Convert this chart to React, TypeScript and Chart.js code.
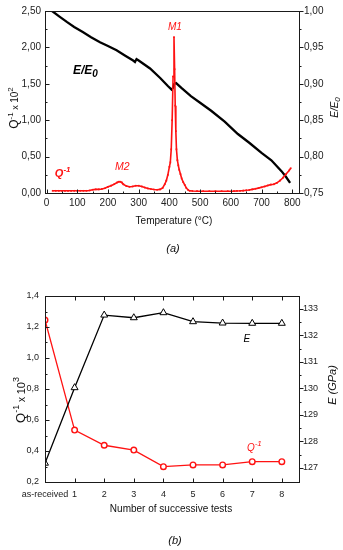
import React, { useEffect, useRef } from 'react';
import { Chart, registerables } from 'chart.js';
Chart.register(...registerables);

const FONT = '"Liberation Sans", Arial, Helvetica, sans-serif';
const RED = '#ff1212';
const INK = '#222222';

// ---------- Chart (a): internal friction & modulus vs temperature ----------
const tempE = [18, 40, 66, 90, 118, 145, 174, 200, 228, 255, 282, 288, 293, 300, 337, 370, 395, 407, 411, 416, 422, 440, 470, 500, 536, 580, 623, 660, 700, 732, 765, 780, 793];
const eRatio = [1.0, 0.993, 0.985, 0.978, 0.971, 0.964, 0.957, 0.952, 0.946, 0.939, 0.932, 0.930, 0.934, 0.932, 0.921, 0.908, 0.897, 0.892, 0.894, 0.900, 0.901, 0.894, 0.883, 0.874, 0.863, 0.848, 0.831, 0.819, 0.805, 0.795, 0.780, 0.772, 0.764];

const tempQ = [20, 30, 40, 50, 60, 70, 80, 90, 100, 110, 120, 130, 140, 150, 160, 170, 180, 190, 200, 210, 220, 230, 235, 240, 245, 250, 260, 270, 280, 290, 300, 310, 320, 330, 340, 350, 360, 370, 378, 385, 390, 395, 400, 403, 406, 409, 412, 415, 417, 419, 421, 423, 426, 429, 432, 436, 440, 445, 450, 455, 460, 466, 475, 490, 510, 530, 550, 570, 590, 610, 620, 630, 640, 650, 660, 670, 680, 690, 700, 710, 720, 730, 740, 750, 760, 770, 780, 790, 795];
const qDamping = [0.03, 0.03, 0.03, 0.03, 0.03, 0.03, 0.03, 0.03, 0.03, 0.03, 0.03, 0.03, 0.035, 0.045, 0.05, 0.05, 0.055, 0.065, 0.085, 0.10, 0.12, 0.145, 0.155, 0.155, 0.145, 0.12, 0.095, 0.085, 0.09, 0.10, 0.10, 0.09, 0.075, 0.063, 0.055, 0.048, 0.045, 0.05, 0.07, 0.12, 0.17, 0.25, 0.36, 0.42, 0.60, 1.0, 1.6, 2.14, 1.7, 1.2, 0.85, 0.60, 0.45, 0.38, 0.32, 0.26, 0.20, 0.15, 0.11, 0.07, 0.045, 0.03, 0.027, 0.025, 0.025, 0.025, 0.025, 0.025, 0.025, 0.026, 0.028, 0.03, 0.033, 0.037, 0.042, 0.05, 0.058, 0.067, 0.078, 0.09, 0.103, 0.115, 0.12, 0.14, 0.17, 0.21, 0.26, 0.31, 0.34];

const tempTicks = [0, 100, 200, 300, 400, 500, 600, 700, 800];
const qTicksA = [0, 0.5, 1.0, 1.5, 2.0, 2.5];
const eTicksA = [0.75, 0.80, 0.85, 0.90, 0.95, 1.00];

// ---------- Chart (b): successive tests ----------
const testLabels = ['as-received', '1', '2', '3', '4', '5', '6', '7', '8'];
const testIndex = [0, 1, 2, 3, 4, 5, 6, 7, 8];
const eModulus = [127.18, 130.03, 132.77, 132.67, 132.86, 132.52, 132.47, 132.46, 132.46];
const qTests = [1.245, 0.535, 0.437, 0.406, 0.299, 0.31, 0.31, 0.331, 0.331];
const qTicksB = [0.2, 0.4, 0.6, 0.8, 1.0, 1.2, 1.4];
const eTicksB = [127, 128, 129, 130, 131, 132, 133];

type Part = { t: string; size: number; dy?: number; italic?: boolean; bold?: boolean };

function drawRich(ctx: CanvasRenderingContext2D, parts: Part[], x: number, y: number, color: string, align: 'left' | 'center', rot = 0) {
  ctx.save();
  ctx.translate(x, y);
  if (rot) ctx.rotate(rot);
  ctx.fillStyle = color;
  ctx.textBaseline = 'alphabetic';
  ctx.textAlign = 'left';
  const fontOf = (p: Part) => `${p.italic ? 'italic ' : ''}${p.bold ? 'bold ' : ''}${p.size}px ${FONT}`;
  let total = 0;
  const widths = parts.map((p) => {
    ctx.font = fontOf(p);
    const w = ctx.measureText(p.t).width;
    total += w;
    return w;
  });
  let cx = align === 'center' ? -total / 2 : 0;
  parts.forEach((p, i) => {
    ctx.font = fontOf(p);
    ctx.fillText(p.t, cx, p.dy || 0);
    cx += widths[i];
  });
  ctx.restore();
}

const mids = (a: number[]) => a.slice(1).map((v, i) => (v + a[i]) / 2);

type TickSpec = { id: string; side: 'left' | 'right' | 'top' | 'bottom'; inward: boolean; major: number[]; minor: number[] };
type Note = { x: number; y: number; yId: string; parts: Part[]; color: string; align: 'left' | 'center' };
type Title = { x: number; y: number; rot: number; parts: Part[]; align: 'left' | 'center' };

function decor(id: string, ticks: TickSpec[], notes: Note[], titles: Title[]) {
  return {
    id,
    afterDraw(chart: any) {
      const ctx: CanvasRenderingContext2D = chart.ctx;
      const a = chart.chartArea;
      ctx.save();
      ctx.strokeStyle = '#1a1a1a';
      ctx.lineWidth = 1;
      const L = Math.round(a.left) + 0.5, R = Math.round(a.right) + 0.5, T = Math.round(a.top) + 0.5, B = Math.round(a.bottom) + 0.5;
      ctx.strokeRect(L, T, R - L, B - T);
      for (const s of ticks) {
        const sc = chart.scales[s.id];
        const one = (v: number, len: number) => {
          const p = Math.round(sc.getPixelForValue(v)) + 0.5;
          ctx.beginPath();
          if (s.side === 'left') { ctx.moveTo(L, p); ctx.lineTo(L + (s.inward ? len : -len), p); }
          else if (s.side === 'right') { ctx.moveTo(R, p); ctx.lineTo(R + (s.inward ? -len : len), p); }
          else if (s.side === 'bottom') { ctx.moveTo(p, B); ctx.lineTo(p, B + (s.inward ? -len : len)); }
          else { ctx.moveTo(p, T); ctx.lineTo(p, T + (s.inward ? len : -len)); }
          ctx.stroke();
        };
        s.major.forEach((v) => one(v, 4));
        s.minor.forEach((v) => one(v, 2));
      }
      ctx.restore();
      for (const n of notes) {
        const xs = chart.scales.x, ys = chart.scales[n.yId];
        drawRich(ctx, n.parts, xs.getPixelForValue(n.x), ys.getPixelForValue(n.y), n.color, n.align);
      }
      for (const t of titles) drawRich(ctx, t.parts, t.x, t.y, '#111', t.align, t.rot);
    },
  };
}

const W = 343;
const HA = 262;
const HB = 288;

export default function App() {
  const refA = useRef<HTMLCanvasElement>(null);
  const refB = useRef<HTMLCanvasElement>(null);

  useEffect(() => {
    const tickFontA = { family: FONT, size: 10 };
    const tickFontB = { family: FONT, size: 9 };
    const hidden = { display: false, drawTicks: false };
    const noBorder = { display: false };

    const chartA = new Chart(refA.current!, {
      type: 'line',
      data: {
        datasets: [
          {
            label: 'Q-1',
            data: tempQ.map((t, i) => ({ x: t, y: qDamping[i] })),
            yAxisID: 'yQ',
            borderColor: RED,
            backgroundColor: RED,
            borderWidth: 1.6,
            pointRadius: 1.2,
            pointStyle: 'rect',
            pointBorderWidth: 0,
            tension: 0,
          },
          {
            label: 'E/E0',
            data: tempE.map((t, i) => ({ x: t, y: eRatio[i] })),
            yAxisID: 'yE',
            borderColor: '#000',
            borderWidth: 2.3,
            pointRadius: 0,
            tension: 0,
          },
        ],
      },
      options: {
        animation: false,
        responsive: false,
        layout: { padding: { top: 8, left: 0, right: 0, bottom: 0 } },
        plugins: { legend: { display: false }, tooltip: { enabled: false } },
        scales: {
          x: {
            type: 'linear', min: -5, max: 822,
            grid: hidden, border: noBorder,
            ticks: { font: tickFontA, color: INK, padding: 4, maxRotation: 0, autoSkip: false, callback: (v: any) => String(v) },
            afterBuildTicks: (s: any) => { s.ticks = tempTicks.map((v) => ({ value: v })); },
            afterFit: (s: any) => { s.height = HA - 193; },
          },
          yQ: {
            type: 'linear', position: 'left', min: 0, max: 2.5,
            grid: hidden, border: noBorder,
            ticks: { font: tickFontA, color: INK, padding: 4, callback: (v: any) => Number(v).toFixed(2).replace('.', ',') },
            afterBuildTicks: (s: any) => { s.ticks = qTicksA.map((v) => ({ value: v })); },
            afterFit: (s: any) => { s.width = 45; },
          },
          yE: {
            type: 'linear', position: 'right', min: 0.75, max: 1.0,
            grid: hidden, border: noBorder,
            ticks: { font: tickFontA, color: INK, padding: 5, callback: (v: any) => Number(v).toFixed(2).replace('.', ',') },
            afterBuildTicks: (s: any) => { s.ticks = eTicksA.map((v) => ({ value: v })); },
            afterFit: (s: any) => { s.width = 44; },
          },
        },
      },
      plugins: [
        decor(
          'decorA',
          [
            { id: 'x', side: 'bottom', inward: true, major: tempTicks, minor: mids(tempTicks) },
            { id: 'yQ', side: 'left', inward: true, major: qTicksA, minor: mids(qTicksA) },
            { id: 'yE', side: 'right', inward: false, major: eTicksA, minor: mids(eTicksA) },
          ],
          [
            { x: 86, y: 1.628, yId: 'yQ', color: '#000', align: 'left', parts: [{ t: 'E/E', size: 12, italic: true, bold: true }, { t: '0', size: 10, italic: true, bold: true, dy: 3 }] },
            { x: 418, y: 2.243, yId: 'yQ', color: RED, align: 'center', parts: [{ t: 'M1', size: 10, italic: true }] },
            { x: 247, y: 0.311, yId: 'yQ', color: RED, align: 'center', parts: [{ t: 'M2', size: 10.5, italic: true }] },
            { x: 27, y: 0.225, yId: 'yQ', color: RED, align: 'left', parts: [{ t: 'Q', size: 11, italic: true, bold: true }, { t: '-1', size: 8, italic: true, bold: true, dy: -5 }] },
          ],
          [
            { x: 18, y: 108, rot: -Math.PI / 2, align: 'center', parts: [{ t: 'Q', size: 12 }, { t: '-1', size: 8, dy: -5 }, { t: ' x ', size: 9 }, { t: '10', size: 10 }, { t: '2', size: 8, dy: -5 }] },
            { x: 338, y: 107.5, rot: -Math.PI / 2, align: 'center', parts: [{ t: 'E/E', size: 10, italic: true }, { t: '0', size: 8, italic: true, dy: 2 }] },
            { x: 174, y: 223.5, rot: 0, align: 'center', parts: [{ t: 'Temperature (°C)', size: 10 }] },
            { x: 173, y: 252, rot: 0, align: 'center', parts: [{ t: '(a)', size: 11, italic: true }] },
          ]
        ),
      ],
    } as any);

    const chartB = new Chart(refB.current!, {
      type: 'line',
      data: {
        datasets: [
          {
            label: 'E',
            data: testIndex.map((t, i) => ({ x: t, y: eModulus[i] })),
            yAxisID: 'yE',
            borderColor: '#000',
            backgroundColor: '#fff',
            borderWidth: 1.3,
            pointStyle: 'triangle',
            pointRadius: 4,
            pointBorderWidth: 1,
            pointBorderColor: '#000',
            pointBackgroundColor: '#fff',
            tension: 0,
          },
          {
            label: 'Q-1',
            data: testIndex.map((t, i) => ({ x: t, y: qTests[i] })),
            yAxisID: 'yQ',
            borderColor: RED,
            backgroundColor: '#fff',
            borderWidth: 1.3,
            pointStyle: 'circle',
            pointRadius: 2.8,
            pointBorderWidth: 1.4,
            pointBorderColor: RED,
            pointBackgroundColor: '#fff',
            tension: 0,
          },
        ],
      },
      options: {
        animation: false,
        responsive: false,
        layout: { padding: { top: 296 - HA, left: 0, right: 0, bottom: 0 } },
        plugins: { legend: { display: false }, tooltip: { enabled: false } },
        scales: {
          x: {
            type: 'linear', min: 0, max: 8.58,
            grid: hidden, border: noBorder,
            ticks: { font: tickFontB, color: INK, padding: 7, maxRotation: 0, autoSkip: false, callback: (v: any) => testLabels[testIndex.indexOf(Number(v))] ?? '' },
            afterBuildTicks: (s: any) => { s.ticks = testIndex.map((v) => ({ value: v })); },
            afterFit: (s: any) => { s.height = HB - (482 - HA); },
          },
          yQ: {
            type: 'linear', position: 'left', min: 0.2, max: 1.4,
            grid: hidden, border: noBorder,
            ticks: { font: tickFontB, color: INK, padding: 6, callback: (v: any) => Number(v).toFixed(1).replace('.', ',') },
            afterBuildTicks: (s: any) => { s.ticks = qTicksB.map((v) => ({ value: v })); },
            afterFit: (s: any) => { s.width = 45; },
          },
          yE: {
            type: 'linear', position: 'right', min: 126.47, max: 133.49,
            grid: hidden, border: noBorder,
            ticks: { font: tickFontB, color: INK, padding: 4, callback: (v: any) => String(Math.round(Number(v))) },
            afterBuildTicks: (s: any) => { s.ticks = eTicksB.map((v) => ({ value: v })); },
            afterFit: (s: any) => { s.width = 44; },
          },
        },
      },
      plugins: [
        decor(
          'decorB',
          [
            { id: 'x', side: 'bottom', inward: true, major: testIndex.slice(1), minor: [] },
            { id: 'x', side: 'top', inward: true, major: testIndex.slice(1), minor: [] },
            { id: 'yQ', side: 'left', inward: true, major: qTicksB, minor: mids(qTicksB) },
            { id: 'yE', side: 'right', inward: false, major: eTicksB, minor: mids(eTicksB) },
          ],
          [
            { x: 6.82, y: 131.77, yId: 'yE', color: '#000', align: 'center', parts: [{ t: 'E', size: 10, italic: true }] },
            { x: 6.82, y: 0.397, yId: 'yQ', color: RED, align: 'left', parts: [{ t: 'Q', size: 10, italic: true }, { t: '-1', size: 8, italic: true, dy: -5 }] },
          ],
          [
            { x: 24.5, y: 138, rot: -Math.PI / 2, align: 'center', parts: [{ t: 'Q', size: 13 }, { t: '-1', size: 9, dy: -6 }, { t: ' x ', size: 10 }, { t: '10', size: 11 }, { t: '3', size: 9, dy: -6 }] },
            { x: 335.5, y: 123, rot: -Math.PI / 2, align: 'center', parts: [{ t: 'E (GPa)', size: 11, italic: true }] },
            { x: 171, y: 249.5, rot: 0, align: 'center', parts: [{ t: 'Number of successive tests', size: 10 }] },
            { x: 175, y: 282, rot: 0, align: 'center', parts: [{ t: '(b)', size: 11, italic: true }] },
          ]
        ),
      ],
    } as any);

    return () => {
      chartA.destroy();
      chartB.destroy();
    };
  }, []);

  return (
    <div style={{ position: 'absolute', left: 0, top: 0, width: W, height: HA + HB, background: '#fff' }}>
      <canvas ref={refA} width={W} height={HA} style={{ display: 'block', width: W, height: HA }} />
      <canvas ref={refB} width={W} height={HB} style={{ display: 'block', width: W, height: HB }} />
    </div>
  );
}
